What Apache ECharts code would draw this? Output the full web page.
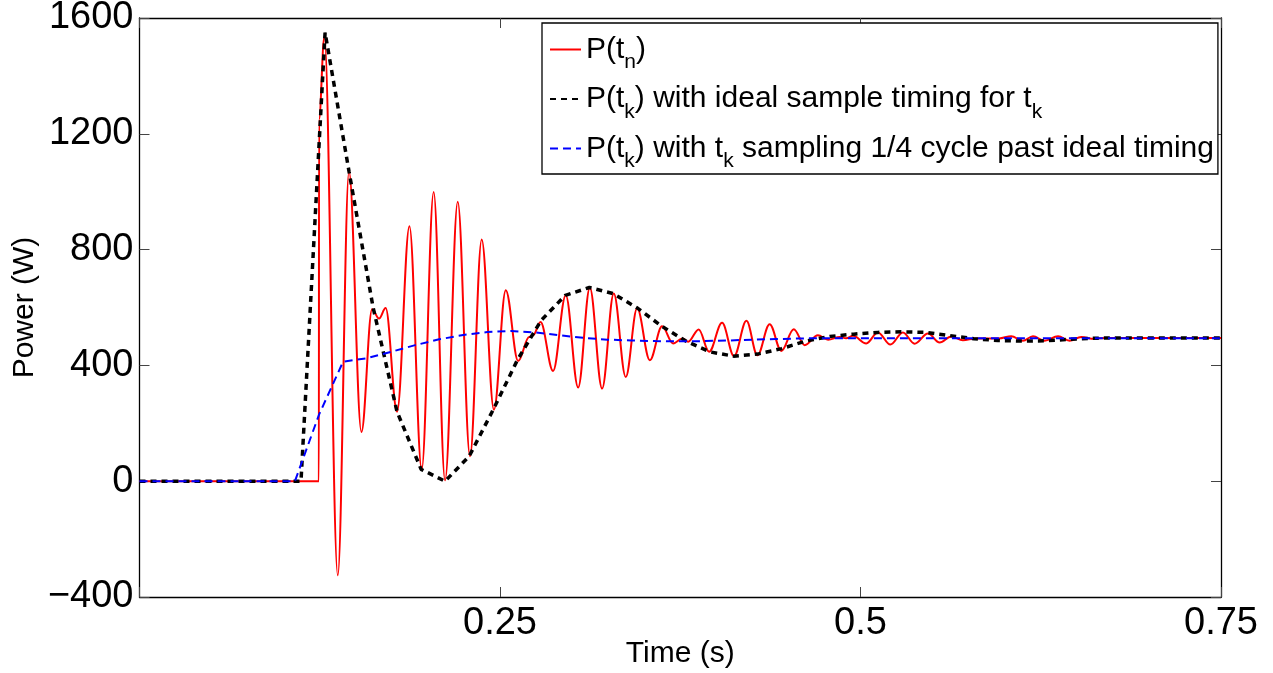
<!DOCTYPE html>
<html><head><meta charset="utf-8">
<script src="https://cdn.jsdelivr.net/npm/echarts@6/dist/echarts.min.js"></script>
<style>html,body{margin:0;padding:0;background:#fff;overflow:hidden}#c{width:1273px;height:673px}</style>
</head><body><div id="c"></div>
<script>
// ---- data ----
const xTickLabels = [0.25, 0.5, 0.75];
const yTickLabels = [-400, 0, 400, 800, 1200, 1600];
const seriesNames = [
  'P(t_n)',
  'P(t_k) with ideal sample timing for t_k',
  'P(t_k) with t_k sampling 1/4 cycle past ideal timing'
];
// P(t_n): extrema of the sampled power waveform
const redT = [0, 0.1244, 0.1245, 0.1282, 0.1375, 0.1453, 0.1539, 0.1613, 0.1661, 0.1707, 0.1786, 0.1872, 0.1957, 0.2040, 0.2119, 0.2207, 0.2292, 0.2373, 0.2458, 0.2540, 0.2626, 0.2702, 0.2730, 0.2781, 0.2868, 0.2956, 0.3042, 0.3123, 0.3208, 0.3289, 0.3372, 0.3451, 0.3539, 0.3624, 0.3700, 0.3765, 0.3805, 0.3878, 0.3950, 0.4040, 0.4123, 0.4209, 0.4285, 0.4370, 0.4451, 0.4537, 0.4613, 0.4705, 0.4775, 0.4856, 0.4900, 0.4948, 0.5040, 0.5121, 0.5207, 0.5294, 0.5375, 0.5468, 0.5549, 0.5630, 0.5710, 0.5800, 0.5960, 0.6045, 0.6126, 0.6196, 0.6277, 0.6370, 0.6450, 0.6531, 0.6620, 0.6700, 0.7500];
const redP = [0, 0, 1250, 1535, -325, 1070, 170, 594, 562, 598, 240, 881, 41, 999, 3, 965, 86, 835, 247, 660, 415, 498, 504, 550, 381, 642, 324, 668, 320, 648, 360, 597, 418, 535, 476, 493, 482, 524, 447, 547, 432, 554, 435, 542, 450, 525, 470, 504, 489, 498, 494, 502, 476, 514, 472, 514, 475, 510, 479, 500, 487, 493, 493, 501, 485, 501, 485, 501, 485, 498, 492, 495, 495];
// P(t_k) ideal sample timing (vertices)
const blackT = [0, 0.1120, 0.1287, 0.1453, 0.1620, 0.1786, 0.1953, 0.2119, 0.2286, 0.2453, 0.2620, 0.2786, 0.2953, 0.3120, 0.3286, 0.3453, 0.3620, 0.3786, 0.3953, 0.4120, 0.4286, 0.4453, 0.4620, 0.4786, 0.4953, 0.5120, 0.5286, 0.5453, 0.5620, 0.5786, 0.5953, 0.6120, 0.6286, 0.6453, 0.6620, 0.6786, 0.6953, 0.7120, 0.7286, 0.7453, 0.7500];
const blackP = [0, 0, 1550, 1070, 600, 240, 41, 0, 86, 247, 418, 556, 642, 669, 648, 598, 536, 485, 447, 432, 439, 458, 484, 500, 508, 514, 516, 514, 503, 492, 486, 484, 485, 490, 494, 495, 495, 495, 495, 495, 495];
// P(t_k) sampled 1/4 cycle late (vertices)
const blueT = [0, 0.1078, 0.1245, 0.1412, 0.1578, 0.1745, 0.1912, 0.2078, 0.2245, 0.2412, 0.2578, 0.2745, 0.2912, 0.3078, 0.3245, 0.3412, 0.3578, 0.3745, 0.3912, 0.4078, 0.4245, 0.4412, 0.4578, 0.4745, 0.4912, 0.7500];
const blueP = [0, 0, 230, 413, 425, 447, 470, 490, 505, 515, 519, 514, 504, 495, 489, 486, 484, 483, 484, 486, 489, 491, 493, 494, 494, 494];

const zip = (a, b) => a.map((v, i) => [v, b[i]]);
const FONT = 'Liberation Sans, Arial, Helvetica, sans-serif';

function legendFmt(name) {
  const parts = name.split(/_(\w)/);
  let s = '';
  parts.forEach((p, i) => {
    if (!p) return;
    s += (i % 2 === 1) ? '{s|' + p + '}' : '{m|' + p + '}';
  });
  return s;
}

const chart = echarts.init(document.getElementById('c'), null, {renderer: 'canvas', width: 1273, height: 673});
const axisLine = {show: true, onZero: false, lineStyle: {color: '#000', width: 1.3}};
const tick = {show: true, inside: true, length: 10, lineStyle: {color: '#444', width: 1}};

chart.setOption({
  animation: false,
  backgroundColor: '#fff',
  textStyle: {fontFamily: FONT, color: '#000'},
  grid: {left: 139.5, width: 1081.5, top: 18, height: 579, containLabel: false, outerBoundsMode: 'none'},
  legend: {
    orient: 'vertical', left: 542, top: 23,
    backgroundColor: '#fff', borderColor: '#000', borderWidth: 1.3, borderRadius: 0,
    padding: [3, 4, 2, 7], itemGap: 2.5, itemWidth: 31, itemHeight: 14,
    itemStyle: {opacity: 0},
    data: seriesNames,
    formatter: legendFmt,
    textStyle: {
      fontFamily: FONT, color: '#000',
      rich: {
        m: {fontSize: 30, lineHeight: 30, fontFamily: FONT, color: '#000'},
        s: {fontSize: 21, lineHeight: 21, padding: [26, 0, 0, 0], fontFamily: FONT, color: '#000'}
      }
    }
  },
  xAxis: [{
    type: 'value', min: 0, max: 0.75, interval: 0.25, position: 'bottom',
    axisLine: axisLine, axisTick: tick, splitLine: {show: false},
    axisLabel: {
      fontSize: 38, color: '#000', fontFamily: FONT, margin: 8, showMinLabel: true, showMaxLabel: true,
      formatter: v => xTickLabels.some(t => Math.abs(t - v) < 1e-9) ? String(v) : ''
    },
    name: 'Time (s)', nameLocation: 'middle', nameGap: 42, nameMoveOverlap: false,
    nameTextStyle: {fontSize: 30, color: '#000', fontFamily: FONT}
  }, {
    type: 'value', min: 0, max: 0.75, interval: 0.25, position: 'top',
    axisLine: axisLine, axisTick: tick, splitLine: {show: false}, axisLabel: {show: false}
  }],
  yAxis: [{
    type: 'value', min: -400, max: 1600, interval: 400, position: 'left',
    axisLine: axisLine, axisTick: tick, splitLine: {show: false},
    axisLabel: {
      fontSize: 38, color: '#000', fontFamily: FONT, margin: 6,
      formatter: v => yTickLabels.includes(v) ? (v < 0 ? '\u2212' + Math.abs(v) : String(v)) : ''
    },
    name: 'Power (W)', nameLocation: 'middle', nameGap: 100, nameMoveOverlap: false,
    nameTextStyle: {fontSize: 30, color: '#000', fontFamily: FONT}
  }, {
    type: 'value', min: -400, max: 1600, interval: 400, position: 'right',
    axisLine: axisLine, axisTick: tick, splitLine: {show: false}, axisLabel: {show: false}
  }],
  series: [{
    name: seriesNames[0], type: 'line', data: zip(redT, redP), symbol: 'none',
    smooth: 0.36, smoothMonotone: 'x',
    lineStyle: {color: '#ff0000', width: 2}, itemStyle: {color: '#ff0000'}, z: 2
  }, {
    name: seriesNames[1], type: 'line', data: zip(blackT, blackP), symbol: 'none',
    lineStyle: {color: '#000', width: 3.5, type: [6, 5]}, itemStyle: {color: '#000'}, z: 3
  }, {
    name: seriesNames[2], type: 'line', data: zip(blueT, blueP), symbol: 'none',
    lineStyle: {color: '#0000ff', width: 2, type: [8, 5]}, itemStyle: {color: '#0000ff'}, z: 4
  }]
});
</script>
</body></html>
